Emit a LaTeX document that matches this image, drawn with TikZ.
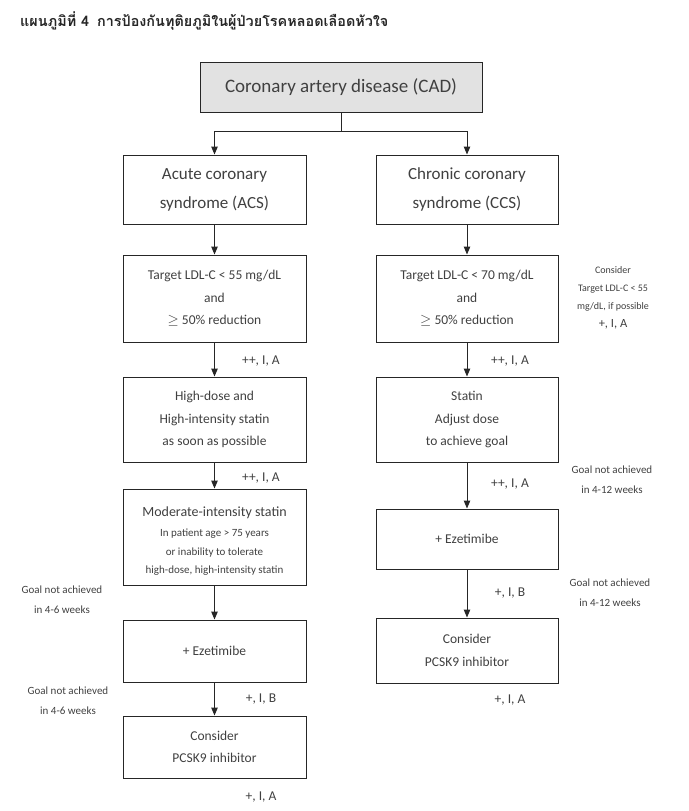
\documentclass[tikz,border=0pt]{standalone}
\usepackage{fontspec}
\setmainfont{Carlito}
\newfontfamily\thaifont[Script=Thai]{Loma}
\usetikzlibrary{arrows.meta}
\definecolor{txt}{HTML}{404040}
\definecolor{cadfill}{HTML}{E2E2E2}
\begin{document}
\begin{tikzpicture}[x=1pt,y=-1pt,
  box/.style={draw=black!85, line width=1pt, text=txt, align=center, inner sep=0pt},
  mid/.style={font=\fontsize{13.5}{22.5}\selectfont},
  lbl/.style={text=txt, align=center, inner sep=0pt, font=\fontsize{13.5}{20}\selectfont},
  note/.style={text=txt, align=center, inner sep=0pt, font=\fontsize{11}{20}\selectfont},
  arr/.style={-{Triangle[length=8pt,width=6.5pt]}, line width=1pt, draw=black!85},
  ln/.style={line width=1pt, draw=black!85}]
\useasboundingbox (0,0) rectangle (688,811);
% title
\node[anchor=west, inner sep=0pt, text=black!85, font=\thaifont\bfseries\fontsize{14.4}{16}\selectfont] (title) at (20,21) {แผนภูมิที่ 4\hspace{8pt}การป้องกันทุติยภูมิในผู้ป่วยโรคหลอดเลือดหัวใจ};
% CAD
\node[box, fill=cadfill, minimum width=282, minimum height=50, font=\fontsize{19}{22}\selectfont] (cad) at (341,87) {Coronary artery disease (CAD)};
% left column
\node[box, minimum width=183, minimum height=69, font=\fontsize{17}{29}\selectfont] (acs) at (214.5,189.5) {Acute coronary\\syndrome (ACS)};
\node[box, mid, minimum width=183, minimum height=87] (lt) at (214.5,298.5) {Target LDL-C < 55 mg/dL\\and\\$\geq$ 50\% reduction};
\node[box, mid, minimum width=183, minimum height=85] (lhd) at (214.5,419.5) {High-dose and\\High-intensity statin\\as soon as possible};
\node[box, minimum width=183, minimum height=96, font=\fontsize{11}{19.5}\selectfont] (lmod) at (214.5,537) {\mbox{}\\[-1pt]{\fontsize{14}{20}\selectfont Moderate-intensity statin}\\In patient age > 75 years\\or inability to tolerate\\[-1.5pt]high-dose, high-intensity statin};
\node[box, mid, minimum width=183, minimum height=62] (lez) at (214.5,651) {+ Ezetimibe};
\node[box, mid, minimum width=183, minimum height=62] (lpc) at (214.5,747) {Consider\\PCSK9 inhibitor};
% right column
\node[box, minimum width=182, minimum height=69, font=\fontsize{17}{29}\selectfont] (ccs) at (467,189.5) {Chronic coronary\\syndrome (CCS)};
\node[box, mid, minimum width=182, minimum height=87] (rt) at (467,298.5) {Target LDL-C < 70 mg/dL\\and\\$\geq$ 50\% reduction};
\node[box, mid, minimum width=182, minimum height=85] (rst) at (467,419.5) {Statin\\Adjust dose\\to achieve goal};
\node[box, mid, minimum width=182, minimum height=60] (rez) at (467,539) {+ Ezetimibe};
\node[box, mid, minimum width=182, minimum height=65] (rpc) at (467,650.5) {Consider\\PCSK9 inhibitor};
% connectors
\coordinate (j) at (341,131);
\draw[ln] (cad.south) -- (j);
\draw[arr] (j) -| (acs.north);
\draw[arr] (j) -| (ccs.north);
\draw[arr] (acs) -- (lt);
\draw[arr] (lt) -- (lhd);
\draw[arr] (lhd) -- (lmod);
\draw[arr] (lmod) -- (lez);
\draw[arr] (lez) -- (lpc);
\draw[arr] (ccs) -- (rt);
\draw[arr] (rt) -- (rst);
\draw[arr] (rst) -- (rez);
\draw[arr] (rez) -- (rpc);
% labels left
\node[lbl] (l1) at (261,361) {++, I, A};
\node[lbl] (l2) at (261,478) {++, I, A};
\node[lbl] (l3) at (261,699) {+, I, B};
\node[lbl] (l4) at (261,797) {+, I, A};
\node[note] (g1) at (62,600) {Goal not achieved\\in 4-6 weeks};
\node[note] (g2) at (68,701) {Goal not achieved\\in 4-6 weeks};
% labels right
\node[lbl] (r1) at (510,361) {++, I, A};
\node[lbl] (r2) at (510,484) {++, I, A};
\node[lbl] (r3) at (510,593) {+, I, B};
\node[lbl] (r4) at (510,700) {+, I, A};
\node[note] (g3) at (612,480) {Goal not achieved\\in 4-12 weeks};
\node[note] (g4) at (610,593) {Goal not achieved\\in 4-12 weeks};
\node[text=txt, align=center, inner sep=0pt, font=\fontsize{10}{18}\selectfont] (cons) at (613,298) {Consider\\Target LDL-C < 55\\mg/dL, if possible\\{\fontsize{12.5}{18}\selectfont +, I, A}};
\end{tikzpicture}
\end{document}
